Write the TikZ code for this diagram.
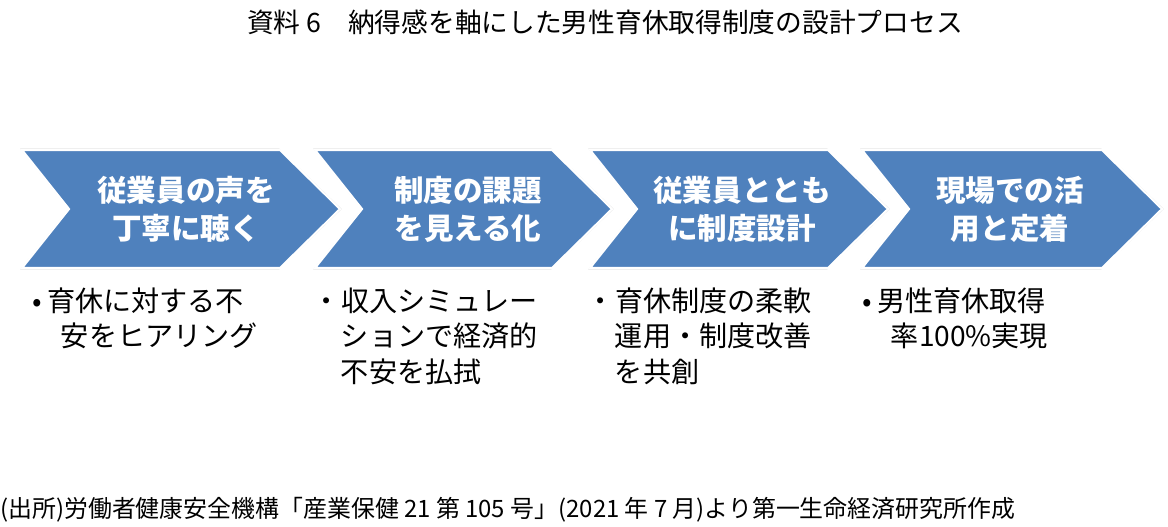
\documentclass[tikz,border=0pt]{standalone}
\usepackage{fontspec}
\newfontfamily\jp{Noto Sans CJK JP}
\begin{document}
\begin{tikzpicture}[x=0.025cm,y=-0.025cm,
  chev/.style={fill={rgb,255:red,79;green,129;blue,189},draw=white,line width=1.5pt},
  chevtxt/.style={text=white,font=\jp\bfseries\fontsize{21}{27}\selectfont,align=center},
  bul/.style={anchor=west,font=\jp\fontsize{20}{22}\selectfont},
  outline/.style={draw=gray!40,line width=0.6pt}]
\useasboundingbox (0,0) rectangle (1168,526);
\node (title) at (605,22) {\jp\fontsize{19}{21}\selectfont 資料 6\quad 納得感を軸にした男性育休取得制度の設計プロセス};
\foreach \x/\t in {22/340,315/612,590/888,862/1162}{
  \draw[outline] (\x-1,149)--(\t-61,149)--(\t+1,209)--(\t-61,269)--(\x-1,269)--(\x+47,209)--cycle;
  \draw[chev] (\x,150)--(\t-60,150)--(\t,209)--(\t-60,268)--(\x,268)--(\x+47,209)--cycle;
}
\node[chevtxt] (t1) at (186,209) {従業員の声を\\丁寧に聴く};
\node[chevtxt] (t2) at (468,209) {制度の課題\\を見える化};
\node[chevtxt] (t3) at (742,209) {従業員ととも\\に制度設計};
\node[chevtxt] (t4) at (1010,209) {現場での活\\用と定着};
\node[bul] (b1a) at (28,301) {•\,育休に対する不};
\node[bul] (b1b) at (56,336) {安をヒアリング};
\node[bul] (b2a) at (308,301) {・収入シミュレー};
\node[bul] (b2b) at (336,336) {ションで経済的};
\node[bul] (b2c) at (336,372) {不安を払拭};
\node[bul] (b3a) at (582,301) {・育休制度の柔軟};
\node[bul] (b3b) at (610,336) {運用・制度改善};
\node[bul] (b3c) at (610,372) {を共創};
\node[bul] (b4a) at (858,301) {•\,男性育休取得};
\node[bul] (b4b) at (886,336) {率100\%実現};
\node[anchor=west,inner sep=0] (src) at (0,510) {\jp\fontsize{17}{19}\selectfont (出所)労働者健康安全機構「産業保健 21 第 105 号」(2021 年 7 月)より第一生命経済研究所作成};
\end{tikzpicture}
\end{document}
